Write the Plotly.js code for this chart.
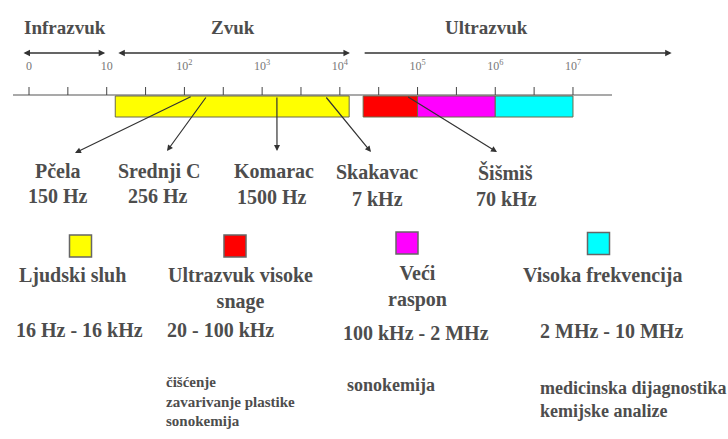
<!DOCTYPE html>
<html>
<head>
<meta charset="utf-8">
<script src="https://cdn.plot.ly/plotly-3.0.1.min.js"></script>
<style>html,body{margin:0;padding:0;background:#fff;}#chart{width:728px;height:439px;}</style>
</head>
<body>
<div id="chart"></div>
<script>
// ---------- DATA (x values are decades: log10 of frequency, 0 = "0", 1 = 10 Hz, ...) ----------
const tickValues = [0, 1, 2, 3, 4, 5, 6, 7];
const tickLabels = ['0', '10', '10<sup>2</sup>', '10<sup>3</sup>', '10<sup>4</sup>', '10<sup>5</sup>', '10<sup>6</sup>', '10<sup>7</sup>'];

const rangeNames = ['Infrazvuk', 'Zvuk', 'Ultrazvuk'];
const rangeStart = [-0.09, 1.13, 4.3];
const rangeEnd = [0.98, 4.13, 8.27];

const bandNames = ['Ljudski sluh', 'Ultrazvuk visoke<br>snage', 'Veći<br>raspon', 'Visoka frekvencija'];
const bandStart = [1.11, 4.3, 5.0, 6.0];
const bandEnd = [4.12, 5.0, 6.0, 7.0];
const bandRanges = ['16 Hz - 16 kHz', '20 - 100 kHz', '100 kHz - 2 MHz', '2 MHz - 10 MHz'];
const bandUses = [[], ['čišćenje', 'zavarivanje plastike', 'sonokemija'], ['sonokemija'], ['medicinska dijagnostika', 'kemijske analize']];

const sourceNames = ['Pčela', 'Srednji C', 'Komarac', 'Skakavac', 'Šišmiš'];
const sourceLabels = ['150 Hz', '256 Hz', '1500 Hz', '7 kHz', '70 kHz'];
const sourcePos = [2.1, 2.29, 3.19, 3.81, 4.86];

// ---------- STYLE / LAYOUT ----------
const bandColors = ['#ffff00', '#ff0000', '#ff00ff', '#00ffff'];
const FONT = 'Liberation Serif';
const TXT = '#4d4d4d';
const LINE = '#333333';
const W = 728, H = 439;
const X0 = 29, DEC = 77.71;               // pixel of decade 0, pixels per decade
const px2d = px => (px - X0) / DEC;        // layout helper for placing decorations

const axisY = 95, tickTop = 87, barTop = 96, barBottom = 117;

const traces = [];

// axis line
traces.push({
  type: 'scatter', mode: 'lines', x: [px2d(13), px2d(612)], y: [axisY, axisY],
  line: {color: '#555', width: 1.2}, hoverinfo: 'skip', showlegend: false
});

// tick marks (major at decades, minor halfway)
const tx = [], ty = [];
tickValues.forEach((v, i) => {
  tx.push(v, v, null); ty.push(tickTop, axisY, null);
  if (i < tickValues.length - 1) {
    const m = (v + tickValues[i + 1]) / 2;
    tx.push(m, m, null); ty.push(tickTop, axisY, null);
  }
});
traces.push({
  type: 'scatter', mode: 'lines', x: tx, y: ty,
  line: {color: '#444', width: 1}, hoverinfo: 'skip', showlegend: false
});

// tick labels
traces.push({
  type: 'scatter', mode: 'text', x: tickValues, y: tickValues.map(() => 67),
  text: tickLabels, textposition: 'middle center',
  textfont: {family: FONT, size: 12, color: '#777'}, cliponaxis: false,
  hoverinfo: 'skip', showlegend: false
});

// frequency bands
traces.push({
  type: 'bar', orientation: 'h',
  y: bandStart.map(() => (barTop + barBottom) / 2),
  x: bandEnd.map((e, i) => e - bandStart[i]),
  base: bandStart, width: barBottom - barTop,
  marker: {color: bandColors, line: {color: '#6b6b4a', width: 1}},
  hoverinfo: 'skip', showlegend: false
});

// legend squares
const legendPx = [[80.5, 246], [235, 246], [407, 243], [598.5, 243.5]];
traces.push({
  type: 'scatter', mode: 'markers',
  x: legendPx.map(p => px2d(p[0])), y: legendPx.map(p => p[1]),
  marker: {symbol: 'square', size: 22, color: bandColors, line: {color: '#666', width: 1.5}},
  cliponaxis: false, hoverinfo: 'skip', showlegend: false
});

const annotations = [];
const txt = (text, px, py, size, opts) => Object.assign({
  text: text, xref: 'paper', yref: 'y', x: px / W, y: py, showarrow: false,
  xanchor: 'center', yanchor: 'middle',
  font: {family: FONT, size: size, color: TXT, weight: 'bold'}
}, opts || {});

// top range titles and arrows
const rangeTitlePx = [65, 233, 487];
rangeNames.forEach((n, i) => {
  annotations.push(txt(n, rangeTitlePx[i], 27, 19));
  annotations.push({
    xref: 'x', yref: 'y', axref: 'x', ayref: 'y',
    x: rangeEnd[i], y: 53, ax: rangeStart[i], ay: 53, text: '',
    showarrow: true, arrowhead: 2, arrowsize: 1, arrowwidth: 1.3,
    arrowcolor: LINE, arrowside: i < 2 ? 'end+start' : 'end', standoff: 0, startstandoff: 0
  });
});

// source arrows and labels
const headPx = [[75, 153], [167, 151], [277, 151], [371, 152], [497, 152]];
const namePx = [[58, 171], [159, 171], [274, 171], [377, 172], [505, 172]];
const valuePx = [[58, 196], [158, 196], [272, 197], [377, 199], [506, 199]];
sourceNames.forEach((n, i) => {
  annotations.push({
    xref: 'x', yref: 'y', axref: 'x', ayref: 'y',
    x: px2d(headPx[i][0]), y: headPx[i][1], ax: sourcePos[i], ay: barTop,
    text: '', showarrow: true, arrowhead: 2, arrowsize: 1, arrowwidth: 1.2,
    arrowcolor: LINE, standoff: 0
  });
  annotations.push(txt(n, namePx[i][0], namePx[i][1], 20));
  annotations.push(txt(sourceLabels[i], valuePx[i][0], valuePx[i][1], 20));
});

// band names, ranges, uses
const bandNamePx = [[72, 275], [240, 288], [418, 286], [602, 275]];
const bandRangePx = [[79, 330], [221, 330], [416, 333], [611, 331]];
const usesPx = [null, [164, 401], [345, 385], [538, 399]];
const usesSize = [0, 15, 18, 18];
bandNames.forEach((n, i) => {
  annotations.push(txt(n, bandNamePx[i][0], bandNamePx[i][1], 20));
  annotations.push(txt(bandRanges[i], bandRangePx[i][0], bandRangePx[i][1], 20));
  if (bandUses[i].length) {
    annotations.push(txt(bandUses[i].join('<br>'), usesPx[i][0], usesPx[i][1], usesSize[i],
      {xanchor: 'left', align: 'left'}));
  }
});

const layout = {
  width: W, height: H,
  margin: {l: 0, r: 0, t: 0, b: 0, pad: 0},
  paper_bgcolor: '#ffffff', plot_bgcolor: '#ffffff',
  showlegend: false,
  font: {family: FONT},
  xaxis: {range: [px2d(0), px2d(W)], visible: false, fixedrange: true},
  yaxis: {range: [H, 0], visible: false, fixedrange: true},
  barmode: 'overlay',
  annotations: annotations
};

Plotly.newPlot('chart', traces, layout, {displayModeBar: false, staticPlot: true});
</script>
</body>
</html>
